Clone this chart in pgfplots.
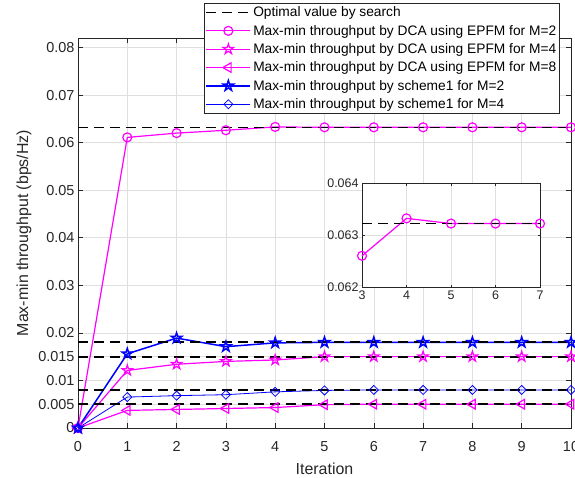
\documentclass[border=0pt]{standalone}
\usepackage{fontspec}
\setmainfont{Liberation Sans}
\usepackage{pgfplots}
\pgfplotsset{compat=1.18}

\definecolor{mgt}{RGB}{255,0,255}
\definecolor{blu}{RGB}{0,0,255}
\definecolor{axc}{RGB}{38,38,38}
\definecolor{gridc}{RGB}{223,223,223}

% outline pentagram, like the MATLAB 'p' marker
\pgfdeclareplotmark{pent}{%
  \pgfpathmoveto{\pgfpointpolar{90}{\pgfplotmarksize}}%
  \pgfpathlineto{\pgfpointpolar{126}{0.382*\pgfplotmarksize}}%
  \pgfpathlineto{\pgfpointpolar{162}{\pgfplotmarksize}}%
  \pgfpathlineto{\pgfpointpolar{198}{0.382*\pgfplotmarksize}}%
  \pgfpathlineto{\pgfpointpolar{234}{\pgfplotmarksize}}%
  \pgfpathlineto{\pgfpointpolar{270}{0.382*\pgfplotmarksize}}%
  \pgfpathlineto{\pgfpointpolar{306}{\pgfplotmarksize}}%
  \pgfpathlineto{\pgfpointpolar{342}{0.382*\pgfplotmarksize}}%
  \pgfpathlineto{\pgfpointpolar{18}{\pgfplotmarksize}}%
  \pgfpathlineto{\pgfpointpolar{54}{0.382*\pgfplotmarksize}}%
  \pgfpathclose\pgfusepathqstroke}

\pgfplotsset{
  matlab/.style={
    /pgf/number format/assume math mode=true,
    scaled ticks=false,
    grid=major,
    major grid style={gridc, line width=0.5bp},
    axis line style={axc, line width=0.6bp},
    tick style={axc, line width=0.6bp},
    tick align=inside,
    ticklabel style={text=axc},
  },
  optline/.style={black, line width=1.8bp, dash pattern=on 10bp off 6bp},
}

\begin{document}
\begin{tikzpicture}

\begin{axis}[
  matlab,
  name=ax,
  scale only axis,
  width=493bp, height=390bp,
  xmin=0, xmax=10,
  ymin=0, ymax=0.082,
  clip=false,
  xtick={0,1,2,3,4,5,6,7,8,9,10},
  ytick={0,0.005,0.01,0.015,0.02,0.03,0.04,0.05,0.06,0.07,0.08},
  yticklabels={0,0.005,0.01,0.015,0.02,0.03,0.04,0.05,0.06,0.07,0.08},
  major tick length=5bp,
  ticklabel style={font=\fontsize{14.5}{16}\selectfont},
  xticklabel style={yshift=-10bp},
  label style={font=\fontsize{16}{18}\selectfont, text=axc},
  xlabel={Iteration},
  xlabel style={yshift=-4bp},
  ylabel={Max-min throughput (bps/Hz)},
  legend style={at={(0.9777,1.0897)}, anchor=north east,
    font=\fontsize{13.8}{16}\selectfont, draw=axc, line width=0.6bp,
    fill=white, inner sep=1.5bp, row sep=2.9bp},
  legend cell align=left,
  legend image code/.code={\draw[mark repeat=2,mark phase=2,#1]
    plot coordinates {(0bp,0bp) (22bp,0bp) (44bp,0bp)};},
]
\addlegendimage{optline}
\addlegendentry{Optimal value by search}

\addplot [mgt, line width=1.2bp, mark=o, mark size=4.5bp] coordinates {
(0,0) (1,0.0611) (2,0.0620) (3,0.0626) (4,0.0633) (5,0.06322)
(6,0.06322) (7,0.06322) (8,0.06322) (9,0.06322) (10,0.06322)};
\addlegendentry{Max-min throughput by DCA using EPFM for M=2}

\addplot [mgt, line width=1.2bp, mark=pent, mark size=5.4bp] coordinates {
(0,0) (1,0.0121) (2,0.0134) (3,0.0140) (4,0.0143) (5,0.0150)
(6,0.0150) (7,0.0150) (8,0.0150) (9,0.0150) (10,0.0150)};
\addlegendentry{Max-min throughput by DCA using EPFM for M=4}

\addplot [mgt, line width=1.2bp, mark=triangle, mark size=5.5bp,
  mark options={rotate=90}] coordinates {
(0,0) (1,0.0037) (2,0.0039) (3,0.0041) (4,0.0043) (5,0.0049)
(6,0.0050) (7,0.0050) (8,0.0050) (9,0.0050) (10,0.0050)};
\addlegendentry{Max-min throughput by DCA using EPFM for M=8}

\addplot [blu, line width=1.5bp, mark=pent, mark size=5.4bp] coordinates {
(0,0) (1,0.0156) (2,0.0189) (3,0.0171) (4,0.0179) (5,0.0180)
(6,0.0180) (7,0.0180) (8,0.0180) (9,0.0180) (10,0.0180)};
\addlegendentry{Max-min throughput by scheme1 for M=2}

\addplot [blu, line width=0.8bp, mark=square, mark size=3.2bp,
  mark options={rotate=45}] coordinates {
(0,0) (1,0.0065) (2,0.0068) (3,0.0070) (4,0.0076) (5,0.0079)
(6,0.0080) (7,0.0080) (8,0.0080) (9,0.0080) (10,0.0080)};
\addlegendentry{Max-min throughput by scheme1 for M=4}

\addplot [optline, forget plot] coordinates {(0,0.0632) (10,0.0632)};
\addplot [optline, forget plot] coordinates {(0,0.018) (10,0.018)};
\addplot [optline, forget plot] coordinates {(0,0.015) (10,0.015)};
\addplot [optline, forget plot] coordinates {(0,0.008) (10,0.008)};
\addplot [optline, forget plot] coordinates {(0,0.005) (10,0.005)};

\coordinate (ins) at (rel axis cs:0.5761,0.3615);
\end{axis}

\begin{axis}[
  matlab,
  at={(ins)}, anchor=south west,
  scale only axis,
  width=178bp, height=104bp,
  xmin=3, xmax=7,
  ymin=0.062, ymax=0.064,
  clip=false,
  xtick={3,4,5,6,7},
  ytick={0.062,0.063,0.064},
  yticklabels={0.062,0.063,0.064},
  major tick length=2.5bp,
  ticklabel style={font=\fontsize{12.5}{14}\selectfont},
  axis background/.style={fill=white},
]
\addplot [mgt, line width=1.2bp, mark=o, mark size=4.5bp] coordinates {
(3,0.0626) (4,0.06332) (5,0.06322) (6,0.06322) (7,0.06322)};
\addplot [optline] coordinates {(3,0.06322) (7,0.06322)};
\end{axis}

\pgfresetboundingbox
\useasboundingbox ([xshift=-78bp,yshift=-50bp]ax.south west)
  rectangle ([xshift=4bp,yshift=38bp]ax.north east);
\end{tikzpicture}
\end{document}
